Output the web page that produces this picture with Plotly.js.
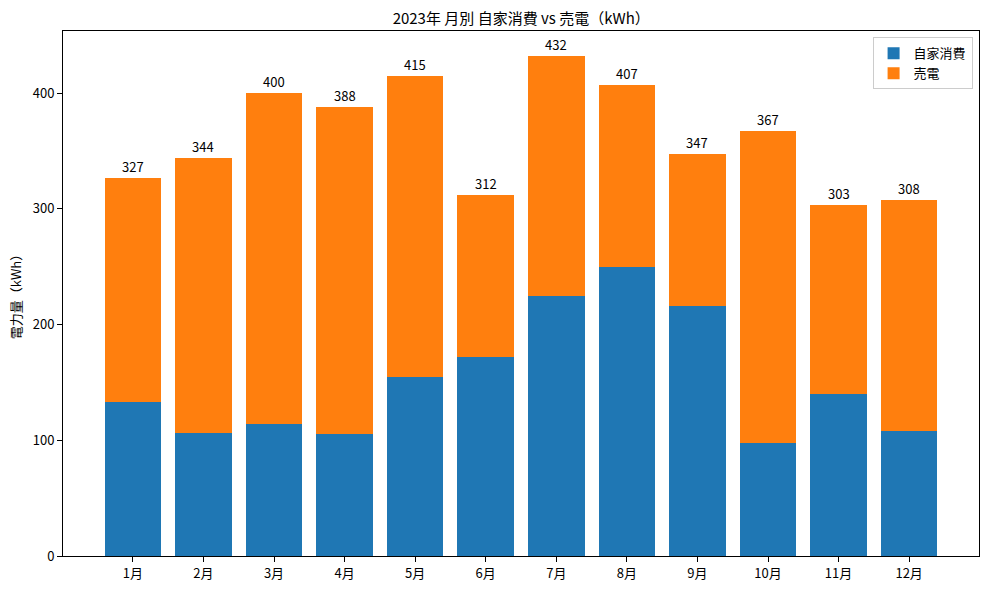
<!DOCTYPE html>
<html>
<head>
<meta charset="utf-8">
<script src="https://cdn.plot.ly/plotly-3.0.1.min.js"></script>
<style>html,body{margin:0;padding:0;background:#fff;}#chart{width:989px;height:590px;}</style>
</head>
<body>
<div id="chart"></div>
<script>
const months = ["1月","2月","3月","4月","5月","6月","7月","8月","9月","10月","11月","12月"];
const selfUse = [133, 106, 114, 105, 155, 172, 225, 250, 216, 98, 140, 108];
const totals = [327, 344, 400, 388, 415, 312, 432, 407, 347, 367, 303, 308];
const sold = totals.map((t, i) => t - selfUse[i]);

const font = "Noto Sans CJK JP, Noto Sans, DejaVu Sans, sans-serif";

const traces = [
  {type: "bar", name: "自家消費", x: months, y: selfUse, marker: {color: "#1f77b4"}, hoverinfo: "skip"},
  {type: "bar", name: "売電", x: months, y: sold, marker: {color: "#ff7f0e"}, hoverinfo: "skip"}
];

const annotations = months.map((m, i) => ({
  x: m, y: totals[i], xref: "x", yref: "y", text: String(totals[i]),
  showarrow: false, yanchor: "bottom", yshift: 0,
  font: {size: 13, color: "#000", family: font}
}));

const layout = {
  width: 989, height: 590,
  margin: {l: 63, r: 10, t: 31, b: 34},
  paper_bgcolor: "#fff", plot_bgcolor: "#fff",
  font: {family: font, size: 13, color: "#000"},
  barmode: "stack", bargap: 0.2,
  title: {text: "2023年 月別 自家消費 vs 売電（kWh）", x: 0.527, xanchor: "center", y: 0.968, yanchor: "middle", font: {size: 15, color: "#000"}},
  xaxis: {
    type: "category", range: [-0.99, 11.99],
    showline: true, linecolor: "#000", linewidth: 1, mirror: true,
    ticks: "outside", ticklen: 5, tickcolor: "#000", showgrid: false, zeroline: false,
    tickfont: {size: 13}
  },
  yaxis: {
    range: [0, 453.6], tickvals: [0, 100, 200, 300, 400],
    showline: true, linecolor: "#000", linewidth: 1, mirror: true,
    ticks: "outside", ticklen: 5, tickcolor: "#000", showgrid: false, zeroline: false,
    tickfont: {size: 13},
    title: {text: "電力量（kWh）", font: {size: 13}, standoff: 8}
  },
  annotations: annotations,
  legend: {
    x: 0.993, xanchor: "right", y: 0.988, yanchor: "top",
    bgcolor: "rgba(255,255,255,0.8)", bordercolor: "#ccc", borderwidth: 1,
    font: {size: 13}, traceorder: "normal", tracegroupgap: 0
  },
  showlegend: true
};

Plotly.newPlot("chart", traces, layout, {staticPlot: true, displayModeBar: false});
</script>
</body>
</html>
